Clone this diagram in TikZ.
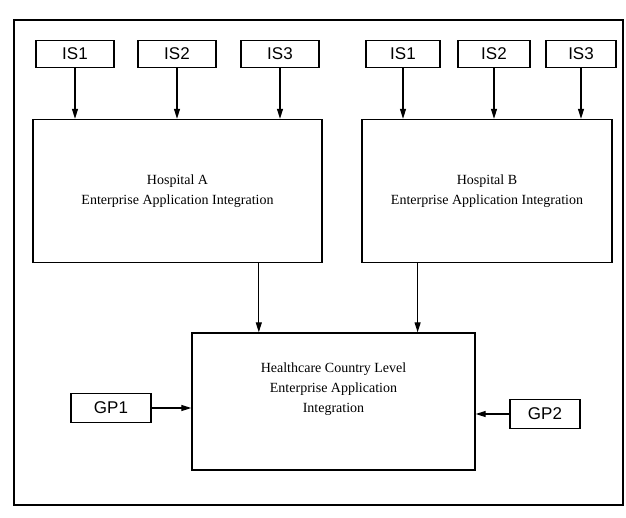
\documentclass[tikz,border=0pt]{standalone}
\usepackage{fontspec}
\setmainfont{Liberation Serif}
\setsansfont{Liberation Sans}
\usepackage{tikz}
\usetikzlibrary{positioning,arrows.meta,calc}

\begin{document}
\begin{tikzpicture}[
    x=1pt, y=-1pt,
    line width=1.4pt,
    issys/.style={
        draw=black,
        minimum width=78pt,
        minimum height=27pt,
        inner sep=0pt,
        font=\sffamily\fontsize{17}{20}\selectfont
    },
    gpbox/.style={
        issys,
        minimum width=80pt,
        minimum height=29pt
    },
    eai/.style={
        draw=black,
        minimum height=143pt,
        align=center,
        font=\fontsize{14}{20}\selectfont
    },
    arr/.style={-{Triangle[length=10pt,width=6pt]}, line width=1.2pt}
]
\useasboundingbox (0,0) rectangle (626,517);

% outer frame
\draw (14,20) rectangle (623,505);

% information systems: first row
\node[issys] (isA1) at (75,54) {IS1};
\node[issys] (isA2) at (177,54) {IS2};
\node[issys] (isA3) at (280,54) {IS3};
\node[issys, minimum width=74pt] (isB1) at (403,54) {IS1};
\node[issys, minimum width=72pt] (isB2) at (494,54) {IS2};
\node[issys, minimum width=70pt] (isB3) at (581,54) {IS3};

% hospital level
\node[eai, minimum width=289pt] (hospA) at (177.5,191)
{Hospital A\\ Enterprise Application Integration};
\node[eai, minimum width=250pt] (hospB) at (487,191)
{Hospital B\\ Enterprise Application Integration};

\foreach \s in {isA1,isA2,isA3}
    \draw[arr] (\s) -- (\s |- hospA.north);
\foreach \s in {isB1,isB2,isB3}
    \draw[arr] (\s) -- (\s |- hospB.north);

% country level
\node[eai, minimum width=283pt, minimum height=137pt] (country) at (333.5,401.5) {};
\node[font=\fontsize{14}{20}\selectfont, align=center] (countrytxt) at ($(country.center)+(0,-12)$)
{Healthcare Country Level\\ Enterprise Application\\ Integration};

\coordinate (outA) at ($(hospA.south west)!0.78!(hospA.south east)$);
\coordinate (outB) at ($(hospB.south west)!0.224!(hospB.south east)$);
\draw[arr] (outA) -- (outA |- country.north);
\draw[arr] (outB) -- (outB |- country.north);

% general practitioners
\node[gpbox] (gp1) at (111,408) {GP1};
\node[gpbox, minimum width=70pt] (gp2) at (545,414) {GP2};

\draw[arr] (gp1) -- (gp1 -| country.west);
\draw[arr] (gp2) -- (gp2 -| country.east);

\end{tikzpicture}
\end{document}
